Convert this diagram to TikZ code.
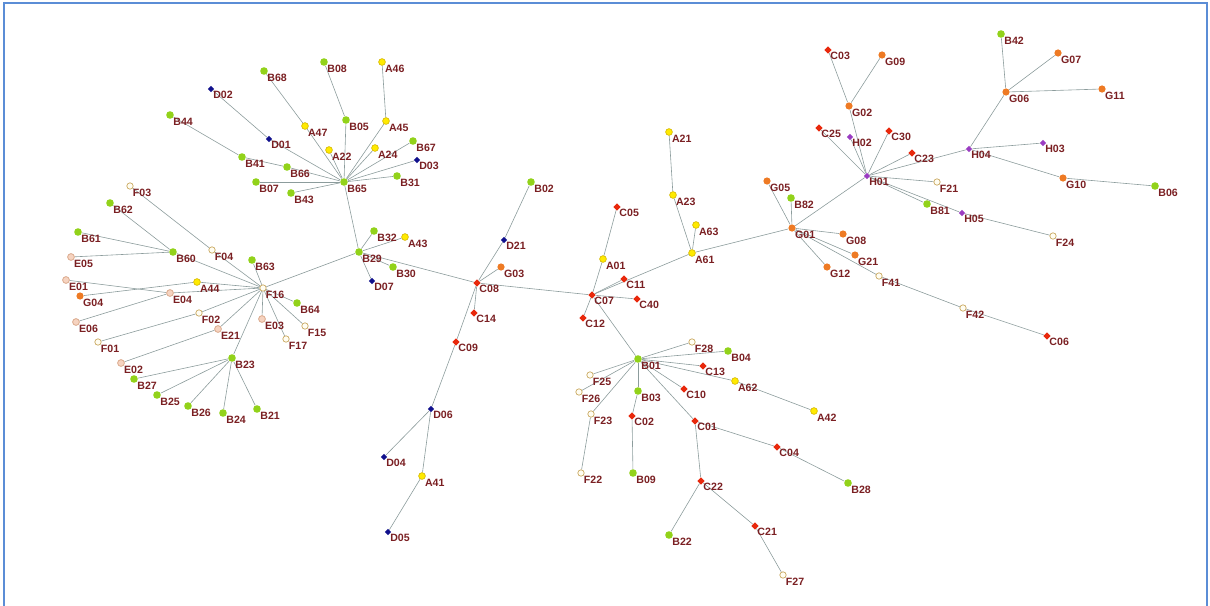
\documentclass[tikz,border=0pt]{standalone}
\usepackage{fontspec}
\setmainfont{Liberation Sans}
\usetikzlibrary{shapes.geometric,backgrounds}
\definecolor{bgreen}{HTML}{92D21A}
\definecolor{ayellow}{HTML}{FFEA00}
\definecolor{aedge}{HTML}{D2B400}
\definecolor{dblue}{HTML}{10108C}
\definecolor{cred}{HTML}{E8280C}
\definecolor{gorange}{HTML}{EE7A24}
\definecolor{hpurple}{HTML}{9A3CC2}
\definecolor{fcream}{HTML}{FFFDF2}
\definecolor{fedge}{HTML}{C9A860}
\definecolor{epink}{HTML}{F6D3C0}
\definecolor{eedge}{HTML}{D6A282}
\definecolor{labelred}{HTML}{7A1F22}
\definecolor{edgegray}{HTML}{8C9C9C}
\definecolor{frameblue}{HTML}{5B8DD6}
\tikzset{
  vtx/.style={inner sep=0pt, label distance=0.3pt},
  lbl/.style={text=labelred, inner sep=0pt, font=\fontsize{5.3}{6}\selectfont\bfseries},
  bnode/.style={vtx, circle, fill=bgreen, minimum size=3.8pt},
  anode/.style={vtx, circle, fill=ayellow, draw=aedge, line width=0.3pt, minimum size=3.4pt},
  dnode/.style={vtx, diamond, fill=dblue, minimum size=3.4pt},
  cnode/.style={vtx, diamond, fill=cred, minimum size=3.7pt},
  gnode/.style={vtx, circle, fill=gorange, minimum size=3.6pt},
  hnode/.style={vtx, diamond, fill=hpurple, minimum size=3.4pt},
  fnode/.style={vtx, circle, fill=fcream, draw=fedge, line width=0.35pt, minimum size=3.2pt},
  enode/.style={vtx, circle, fill=epink, draw=eedge, line width=0.35pt, minimum size=3.4pt},
  edge/.style={draw=edgegray, line width=0.3pt}
}
\begin{document}
\begin{tikzpicture}[x=0.5pt, y=-0.5pt]
  \useasboundingbox (0,0) rectangle (1210,605);
  \draw[frameblue, line width=1pt] (4,606) -- (4,3) -- (1207,3) -- (1207,606);
  % B group
  \foreach \n/\x/\y in {B68/264/71, B44/170/115, B41/242/157, B66/287/167, B07/256/182,
      B43/291/193, B08/324/62, B05/346/120, B67/413/141, B31/397/176, B65/344/182,
      B02/531/182, B42/1001/34, B06/1155/186, B82/791/198, B62/110/203, B61/78/232,
      B60/173/252, B63/252/260, B23/232/358, B27/134/379, B25/157/395, B64/297/303,
      B32/374/231, B29/359/252, B30/393/267, B04/728/351, B01/638/359, B03/638/391,
      B81/927/204, B26/188/406, B24/223/413, B21/257/409, B28/848/483, B09/633/473,
      B22/669/535}
    \node[bnode, label={[lbl]below right:\n}] (\n) at (\x,\y) {};
  % A group
  \foreach \n/\x/\y in {A47/305/126, A46/382/62, A45/386/121, A22/329/150, A24/375/148,
      A21/669/132, A23/673/195, A44/197/282, A43/405/237, A63/696/225, A61/692/253,
      A01/603/259, A62/735/381, A41/422/476, A42/814/411}
    \node[anode, label={[lbl]below right:\n}] (\n) at (\x,\y) {};
  % D group
  \foreach \n/\x/\y in {D02/211/89, D01/269/139, D03/417/160, D07/372/281, D21/504/240,
      D06/431/409, D04/384/457, D05/388/532}
    \node[dnode, label={[lbl]below right:\n}] (\n) at (\x,\y) {};
  % C group
  \foreach \n/\x/\y in {C03/828/50, C25/819/128, C30/889/131, C23/912/153, C08/477/283,
      C14/474/313, C09/456/342, C07/592/295, C12/583/318, C05/617/207, C11/624/279,
      C40/637/299, C13/703/366, C10/684/389, C06/1047/336, C02/632/416, C01/695/421,
      C04/777/447, C22/701/481, C21/755/526}
    \node[cnode, label={[lbl]below right:\n}] (\n) at (\x,\y) {};
  % G group
  \foreach \n/\x/\y in {G09/882/55, G02/849/106, G05/767/181, G07/1058/53, G06/1006/92,
      G11/1102/89, G10/1063/178, G04/80/296, G03/501/267, G01/792/228, G08/843/234,
      G21/855/255, G12/827/267}
    \node[gnode, label={[lbl]below right:\n}] (\n) at (\x,\y) {};
  % H group
  \foreach \n/\x/\y in {H02/850/137, H01/867/176, H04/969/149, H03/1043/143, H05/962/213}
    \node[hnode, label={[lbl]below right:\n}] (\n) at (\x,\y) {};
  % F group
  \foreach \n/\x/\y in {F03/130/186, F21/937/182, F04/212/250, F16/263/288, F02/199/313,
      F17/286/339, F01/98/342, F15/305/326, F25/590/375, F26/579/392, F41/879/276,
      F28/692/342, F24/1053/236, F42/963/308, F23/591/414, F22/581/473, F27/783/575}
    \node[fnode, label={[lbl]below right:\n}] (\n) at (\x,\y) {};
  % E group
  \foreach \n/\x/\y in {E05/71/257, E01/66/280, E04/170/293, E06/76/322, E21/218/329,
      E03/262/319, E02/121/363}
    \node[enode, label={[lbl]below right:\n}] (\n) at (\x,\y) {};
  % links
  \begin{scope}[on background layer]
    \foreach \a/\b in {B68/A47, A47/B65, D02/D01, D01/B65, B44/B41, B41/B66, B66/B65,
        B07/B65, B43/B65, B08/B05, B05/B65, A46/A45, A45/B65, A22/B65, A24/B65,
        B67/B65, D03/B65, B31/B65, B65/B29,
        B29/B32, B29/A43, B29/B30, B29/D07, B29/F16, B29/C08,
        F16/B60, B60/B62, B60/B61, B60/E05, F03/F04, F04/F16, F16/B63, F16/A44,
        A44/G04, E01/E04, F16/E04, E04/E06, F01/F02, F02/F16, E02/E21, E21/F16,
        F16/E03, F16/F17, F16/F15, F16/B64, F16/B23,
        B23/B27, B23/B25, B23/B26, B23/B24, B23/B21,
        C08/D21, D21/B02, C08/G03, C08/C14, C08/C09, C09/D06, D06/D04, D06/A41,
        A41/D05, C08/C07,
        C07/C12, C07/C11, C07/C40, C07/A01, A01/C05, C07/A61, C07/B01,
        A61/A23, A23/A21, A61/A63, A61/G01,
        G01/G05, G01/B82, G01/G08, G01/G21, G01/G12, G01/F41, F41/F42, F42/C06,
        G01/H01,
        H01/G02, G02/C03, G02/G09, H01/C25, H01/H02, H01/C30, H01/C23, H01/H04,
        H01/F21, H01/B81, H01/H05, H05/F24,
        H04/G06, G06/B42, G06/G07, G06/G11, H04/H03, H04/G10, G10/B06,
        B01/F28, B01/B04, B01/C13, B01/A62, A62/A42, B01/C10, B01/B03, B03/C02,
        C02/B09, B01/C01, C01/C04, C04/B28, C01/C22, C22/B22, C22/C21, C21/F27,
        B01/F25, B01/F26, B01/F23, F23/F22}
      \draw[edge] (\a) -- (\b);
  \end{scope}
\end{tikzpicture}
\end{document}
